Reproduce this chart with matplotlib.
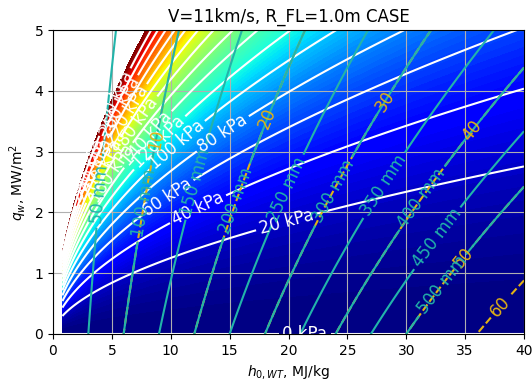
import numpy as np
import matplotlib
matplotlib.use('Agg')
import matplotlib.pyplot as plt

# ---------------- data ----------------
h_lim = [0, 40]                 # MJ/kg
q_lim = [0, 5]                  # MW/m^2
h_start = 0.8                   # left edge of computed field
# stagnation-pressure relation fitted to the chart: q = P_COEF * p^P_EXP * h^H_EXP
P_COEF = 0.0648
P_EXP = 0.55
H_EXP = 0.57
P_MAX = 318                     # kPa, top of filled field
p_levels = [0, 20, 40, 60, 80, 100, 120, 140, 160, 180, 200, 220, 240, 260, 280, 300]
# thickness relation fitted to the chart: h = t * (K0 + K1 q + K2 q^2)
K0, K1, K2 = 0.060, 0.00717, 0.000447
t_levels = [50, 100, 150, 200, 250, 300, 350, 400, 450, 500]     # mm
c_levels = [10, 20, 30, 40, 50, 60]                               # second scale
x_ticks = [0, 5, 10, 15, 20, 25, 30, 35, 40]
y_ticks = [0, 1, 2, 3, 4, 5]
title = "V=11km/s, R_FL=1.0m CASE"

# ---------------- fields ----------------
h = np.linspace(h_start, 40, 500)
q = np.linspace(-0.05, 5.0, 400)
H, Q = np.meshgrid(h, q)
ratio = Q / (P_COEF * H ** H_EXP)
P = np.sign(ratio) * np.abs(ratio) ** (1.0 / P_EXP)
kq = K0 + K1 * Q + K2 * Q ** 2
T = H / kq


def q_on_p(p, hh):
    return P_COEF * p ** P_EXP * hh ** H_EXP


def h_on_t(t, qq):
    return t * (K0 + K1 * qq + K2 * qq ** 2)


# ---------------- figure ----------------
fig = plt.figure(figsize=(5.32, 3.85), dpi=100)
ax = fig.add_axes([0.0996, 0.1325, 0.8854, 0.7895])

ax.contourf(H, Q, P, levels=np.linspace(0, P_MAX, 120), cmap='jet', zorder=1)
ax.grid(True, color='#b0b0b0', linewidth=0.8, zorder=1.5)

cs_p = ax.contour(H, Q, P, levels=p_levels, colors='white', linewidths=1.5, zorder=2)
cs_c = ax.contour(H, Q, T / 10.0, levels=c_levels, colors='#e3b214', linewidths=1.5,
                  linestyles='--', zorder=2.1)
cs_t = ax.contour(H, Q, T, levels=t_levels, colors='#22b4aa', linewidths=1.5, zorder=2.2)

# label positions
p_lab_h = {0: 21.4, 20: 19.8, 40: 12.3, 60: 9.7, 80: 14.4, 100: 10.5,
           120: 9.0, 140: 8.0, 160: 5.0, 180: 7.0, 200: 4.2, 220: 6.3,
           240: 3.5, 260: 5.7, 280: 3.0, 300: 5.2}
p_pos = [(p_lab_h[p], q_on_p(p, p_lab_h[p]) if p > 0 else 0.0) for p in p_levels]
ax.clabel(cs_p, fmt='%d kPa', fontsize=12, manual=p_pos, inline_spacing=4)

t_lab_q = {50: 2.3, 100: 2.15, 150: 2.5, 200: 2.2, 250: 2.37, 300: 2.35,
           350: 2.45, 400: 2.24, 450: 1.58, 500: 0.81}
t_pos = [(h_on_t(t, t_lab_q[t]), t_lab_q[t]) for t in t_levels]
ax.clabel(cs_t, fmt='%d mm', fontsize=12, manual=t_pos, inline_spacing=4)

c_lab_q = {10: 3.19, 20: 3.55, 30: 3.82, 40: 3.34, 50: 1.25, 60: 0.45}
c_pos = [(h_on_t(10 * c, c_lab_q[c]), c_lab_q[c]) for c in c_levels]
ax.clabel(cs_c, fmt='%d', fontsize=12, manual=c_pos, inline_spacing=4)

ax.set_xlim(h_lim)
ax.set_ylim(q_lim)
ax.set_xticks(x_ticks)
ax.set_yticks(y_ticks)
ax.set_xlabel(r'$h_{0,WT}$, MJ/kg', fontsize=10)
ax.set_ylabel(r'$q_w$, MW/m$^2$', fontsize=10)
ax.set_title(title, fontsize=12)

fig.savefig('out.png', dpi=100)
